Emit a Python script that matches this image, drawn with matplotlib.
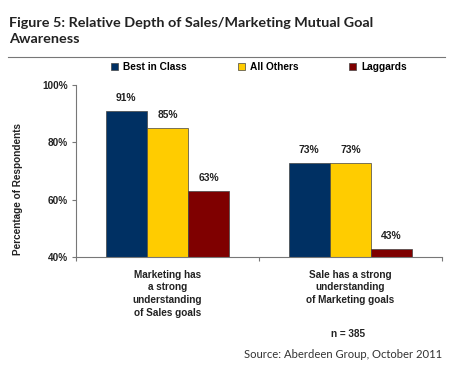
import matplotlib
matplotlib.use("Agg")
import matplotlib.pyplot as plt
import numpy as np
from matplotlib.lines import Line2D

categories = ["Marketing has\na strong\nunderstanding\nof Sales goals",
              "Sale has a strong\nunderstanding\nof Marketing goals"]
series = ["Best in Class", "All Others", "Laggards"]
values = {
    "Best in Class": [91, 73],
    "All Others": [85, 73],
    "Laggards": [63, 43],
}
colors = {"Best in Class": "#003063", "All Others": "#FFCC00", "Laggards": "#7F0000"}
yticks = [40, 60, 80, 100]

plt.rcParams["font.family"] = ["Liberation Sans", "DejaVu Sans"]

fig = plt.figure(figsize=(4.5, 3.7), dpi=100)
ax = fig.add_axes([0.169, 0.305, 0.813, 0.465])

x = np.arange(len(categories))
w = 0.225
for i, s in enumerate(series):
    pos = x + (i - 1) * w
    bars = ax.bar(pos, np.array(values[s]) - 40, bottom=40, width=w,
                  color=colors[s], edgecolor="#444444", linewidth=0.5, label=s)
    for b, v in zip(bars, values[s]):
        ax.text(b.get_x() + b.get_width() / 2, v + 4.5, f"{v}%", ha="center",
                va="center", fontsize=7.4, fontweight="bold", color="#222222")

ax.set_xlim(-0.5, 1.5)
ax.set_ylim(40, 100)
ax.set_yticks(yticks)
ax.set_yticklabels([f"{t}%" for t in yticks], fontsize=7.2, fontweight="bold", color="#222222")
ax.set_xticks([-0.5, 0.5, 1.5])
ax.set_xticklabels([])
ax.set_xticks(x, minor=True)
ax.set_xticklabels(categories, minor=True, fontsize=7.2, fontweight="bold",
                   color="#222222", linespacing=1.35, va="top")
ax.tick_params(axis="x", which="minor", length=0, pad=9)
ax.tick_params(axis="x", which="major", length=3, color="#777777")
ax.tick_params(axis="y", length=3, color="#777777", pad=3)
for sp in ["top", "right"]:
    ax.spines[sp].set_visible(False)
for sp in ["left", "bottom"]:
    ax.spines[sp].set_color("#777777")
    ax.spines[sp].set_linewidth(0.8)

ax.set_ylabel("Percentage of Respondents", fontsize=7.2, fontweight="bold",
              color="#222222")
ax.yaxis.set_label_coords(-0.145, 0.395)

leg = ax.legend(loc="center", bbox_to_anchor=(0.5, 1.105), ncol=3, frameon=False,
                handlelength=0.7, handleheight=0.7, handletextpad=0.5,
                columnspacing=5.0, prop={"size": 7.3, "weight": "bold"})

fig.text(0.020, 0.955, "Figure 5: Relative Depth of Sales/Marketing Mutual Goal\nAwareness",
         ha="left", va="top", fontsize=10.4, fontweight="bold", family="Lato",
         color="#222222", linespacing=1.4)
fig.add_artist(Line2D([0.018, 0.989], [0.846, 0.846], color="#777777", linewidth=0.8))

fig.text(0.773, 0.097, "n = 385", ha="center", va="center", fontsize=7.2,
         fontweight="bold", color="#222222")
fig.text(0.982, 0.043, "Source: Aberdeen Group, October 2011", ha="right", va="center",
         fontsize=8.1, family="Lato", color="#333333")

fig.savefig("out.png", dpi=100)
